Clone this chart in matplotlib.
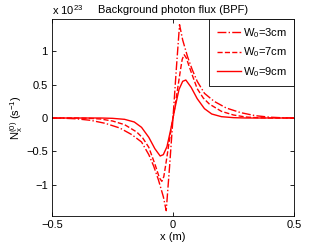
import matplotlib
matplotlib.use("Agg")
from matplotlib import pyplot as plt

plt.rcParams['font.family'] = ['Liberation Sans', 'DejaVu Sans']
plt.rcParams['mathtext.fontset'] = 'custom'
plt.rcParams['mathtext.rm'] = 'Liberation Sans'
plt.rcParams['mathtext.it'] = 'Liberation Sans'

# values, in units of 1e23 s^-1
x_3cm = [-0.5, -0.45, -0.40, -0.34, -0.28, -0.22, -0.17, -0.13, -0.10, -0.08, -0.06, -0.04,
         -0.028, -0.014, 0.0, 0.014, 0.027, 0.04, 0.06, 0.08, 0.10, 0.13, 0.17, 0.22,
         0.28, 0.34, 0.40, 0.45, 0.5]
y_3cm = [0.0, -0.004, -0.012, -0.035, -0.08, -0.15, -0.25, -0.36, -0.55, -0.72, -0.93, -1.18,
         -1.39, -0.72, 0.0, 0.75, 1.40, 1.17, 0.92, 0.72, 0.55, 0.37, 0.25, 0.15,
         0.08, 0.035, 0.012, 0.004, 0.0]

x_7cm = [-0.5, -0.40, -0.35, -0.30, -0.25, -0.20, -0.15, -0.125, -0.10, -0.073, -0.056, -0.046,
         -0.038, -0.03, -0.02, -0.01, 0.0, 0.01, 0.02, 0.03, 0.038, 0.046, 0.055, 0.073,
         0.10, 0.125, 0.15, 0.20, 0.25, 0.30, 0.35, 0.40, 0.5]
y_7cm = [0.0, 0.0, -0.004, -0.015, -0.045, -0.10, -0.21, -0.30, -0.44, -0.71, -0.90, -0.95,
         -0.88, -0.70, -0.46, -0.22, 0.0, 0.22, 0.46, 0.70, 0.88, 0.95, 0.90, 0.71,
         0.44, 0.30, 0.21, 0.10, 0.045, 0.015, 0.004, 0.0, 0.0]

x_9cm = [-0.5, -0.30, -0.25, -0.20, -0.16, -0.13, -0.10, -0.075, -0.053, -0.04, -0.025, -0.011,
         0.0, 0.011, 0.025, 0.04, 0.053, 0.075, 0.10, 0.13, 0.16, 0.20, 0.25, 0.30, 0.5]
y_9cm = [0.0, 0.0, -0.005, -0.02, -0.06, -0.14, -0.29, -0.46, -0.57, -0.55, -0.43, -0.20,
         0.0, 0.20, 0.43, 0.55, 0.57, 0.46, 0.29, 0.14, 0.06, 0.02, 0.005, 0.0, 0.0]

labels = [r'W$_0$=3cm', r'W$_0$=7cm', r'W$_0$=9cm']

fig = plt.figure(figsize=(3.26, 2.45), dpi=100)
ax = fig.add_axes([52 / 326, 29 / 245, 242 / 326, 197 / 245])

ax.plot(x_3cm, y_3cm, color='red', linestyle='-.', linewidth=1.0, label=labels[0])
ax.plot(x_7cm, y_7cm, color='red', linestyle='--', linewidth=1.0, label=labels[1])
ax.plot(x_9cm, y_9cm, color='red', linestyle='-', linewidth=1.0, label=labels[2])

ax.set_xlim(-0.5, 0.5)
ax.set_ylim(-1.47, 1.485)
ax.set_xticks([-0.5, 0, 0.5])
ax.set_xticklabels(['\u22120.5', '0', '0.5'])
ax.set_yticks([-1, -0.5, 0, 0.5, 1])
ax.set_yticklabels(['\u22121', '\u22120.5', '0', '0.5', '1'])
ax.tick_params(direction='in', top=True, right=True, length=3, width=0.6, labelsize=8, pad=3)
for sp in ax.spines.values():
    sp.set_linewidth(0.6)

ax.set_xlabel('x (m)', fontsize=8, labelpad=1)
ax.set_ylabel(r'N$_x^{(0)}$ (s$^{-1}$)', fontsize=8, labelpad=1)
ax.set_title('Background photon flux (BPF)', fontsize=8, pad=4)
ax.text(0.0, 1.01, r'x 10$^{23}$', transform=ax.transAxes, fontsize=8, ha='left', va='bottom')

leg = ax.legend(loc='upper right', fontsize=8, borderaxespad=0, fancybox=False,
                handlelength=2.2, handletextpad=0.15, labelspacing=0.5, borderpad=0.65,
                framealpha=1)
leg.get_frame().set_edgecolor('black')
leg.get_frame().set_linewidth(0.6)

fig.savefig('out.png', dpi=100)
